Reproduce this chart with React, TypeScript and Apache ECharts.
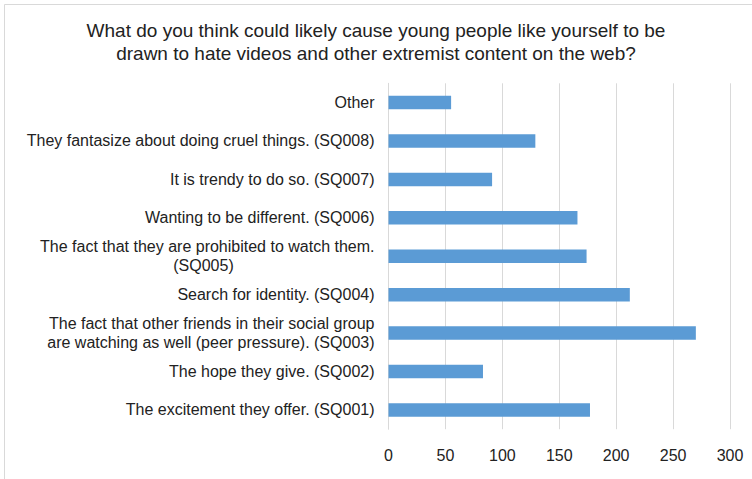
import React, { useEffect, useRef } from "react";
import * as echarts from "echarts";

const titleLines = [
  "What do you think could likely cause young people like yourself to be",
  "drawn to hate videos and other extremist content on the web?",
];

// top-to-bottom order
const categories = [
  "Other",
  "They fantasize about doing cruel things. (SQ008)",
  "It is trendy to do so. (SQ007)",
  "Wanting to be different. (SQ006)",
  "The fact that they are prohibited to watch them.\n(SQ005)",
  "Search for identity. (SQ004)",
  "The fact that other friends in their social group\nare watching as well (peer pressure). (SQ003)",
  "The hope they give. (SQ002)",
  "The excitement they offer. (SQ001)",
];

const values = [55, 129, 91, 166, 174, 212, 270, 83, 177];

const xTicks = [0, 50, 100, 150, 200, 250, 300];

export default function App() {
  const ref = useRef<HTMLDivElement>(null);
  useEffect(() => {
    document.body.style.margin = "0";
    const chart = echarts.init(ref.current!, null, { renderer: "svg" });
    const font = "'Liberation Sans', Arial, sans-serif";
    chart.setOption({
      animation: false,
      backgroundColor: "#ffffff",
      textStyle: { fontFamily: font },
      graphic: [
        {
          type: "rect",
          shape: { x: 4.5, y: 4.5, width: 900, height: 900 },
          style: { fill: "none", stroke: "#d9d9d9", lineWidth: 1 },
          silent: true,
        },
        {
          type: "text",
          x: 376,
          y: 30,
          style: {
            text: titleLines[0],
            font: `19px ${font}`,
            fill: "#222222",
            align: "center",
            verticalAlign: "middle",
          },
        },
        {
          type: "text",
          x: 376,
          y: 53,
          style: {
            text: titleLines[1],
            font: `19px ${font}`,
            fill: "#222222",
            align: "center",
            verticalAlign: "middle",
          },
        },
      ],
      grid: { left: 388.5, right: 22, top: 83.3, bottom: 49.8, containLabel: false },
      xAxis: {
        type: "value",
        min: xTicks[0],
        max: xTicks[xTicks.length - 1],
        interval: 50,
        axisLine: { show: false },
        axisTick: { show: false },
        axisLabel: { color: "#222222", fontSize: 16, margin: 18, fontFamily: font },
        splitLine: { show: true, lineStyle: { color: "#d9d9d9", width: 1 } },
      },
      yAxis: {
        type: "category",
        inverse: true,
        data: categories,
        axisLine: { show: true, lineStyle: { color: "#d9d9d9" } },
        axisTick: { show: false },
        axisLabel: {
          color: "#222222",
          fontSize: 16,
          margin: 14,
          lineHeight: 19,
          fontFamily: font,
          formatter: (v: string) => {
            if (v.indexOf("(SQ005)") >= 0 && v.indexOf("\n") >= 0) {
              const parts = v.split("\n");
              return `{t|${parts[0]}}\n{c|${parts[1]}}`;
            }
            return v;
          },
          rich: {
            t: { fontSize: 16, color: "#222222", fontFamily: font, lineHeight: 19 },
            c: {
              fontSize: 16,
              color: "#222222",
              fontFamily: font,
              lineHeight: 19,
              width: 342,
              align: "center",
            },
          },
        },
      },
      series: [
        {
          type: "bar",
          data: values,
          barWidth: 13.5,
          itemStyle: { color: "#5b9bd5" },
        },
      ],
    });
    return () => chart.dispose();
  }, []);
  return <div ref={ref} style={{ width: 752, height: 479 }} />;
}
